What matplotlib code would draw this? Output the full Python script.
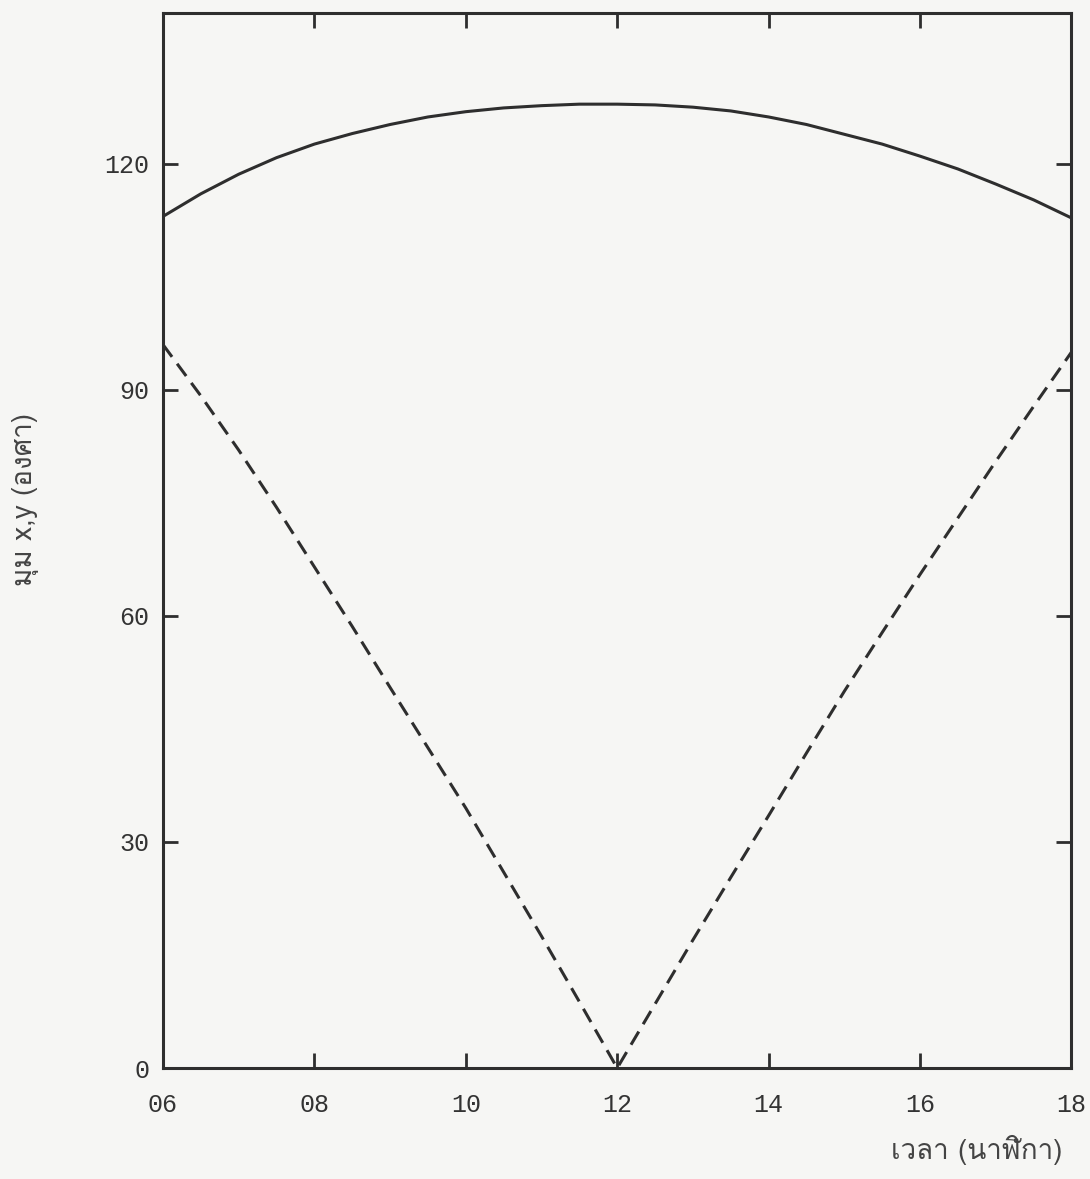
import matplotlib
matplotlib.use('Agg')
import matplotlib.pyplot as plt
from matplotlib import font_manager
from matplotlib.ft2font import FT2Font

# Data (half-hour readings)
hours = [6, 6.5, 7, 7.5, 8, 8.5, 9, 9.5, 10, 10.5, 11, 11.5, 12,
         12.5, 13, 13.5, 14, 14.5, 15, 15.5, 16, 16.5, 17, 17.5, 18]
angle_solid = [113.0, 116.0, 118.6, 120.8, 122.6, 124.0, 125.2, 126.2, 126.9, 127.4, 127.7, 127.9, 127.9,
               127.8, 127.5, 127.0, 126.2, 125.2, 123.9, 122.6, 121.0, 119.3, 117.3, 115.2, 112.8]
angle_dashed = [96.0, 89.2, 82.0, 74.4, 66.5, 58.6, 50.5, 42.5, 34.5, 26.0, 17.5, 8.8, 0.0,
                8.5, 17.0, 25.3, 33.5, 41.8, 50.0, 57.8, 65.5, 73.0, 80.5, 87.8, 95.0]

x_ticks = [6, 8, 10, 12, 14, 16, 18]
x_labels = ['06', '08', '10', '12', '14', '16', '18']
y_ticks = [0, 30, 60, 90, 120]
y_labels = ['0', '30', '60', '90', '120']

ylabel_text = 'มุม x,y (องศา)'
xlabel_text = 'เวลา (นาฬิกา)'


# Find any installed font that has Thai glyphs
def find_thai_font():
    seen = set()
    for f in font_manager.fontManager.ttflist:
        if f.fname in seen:
            continue
        seen.add(f.fname)
        try:
            cmap = FT2Font(f.fname).get_charmap()
        except Exception:
            continue
        if 0x0E21 in cmap and 0x0E32 in cmap:
            return f.name
    return None


thai = find_thai_font()
thai_family = [thai, 'DejaVu Sans'] if thai else ['DejaVu Sans']
num_family = ['Liberation Mono', 'DejaVu Sans Mono']

ink = '#2e2e2e'
paper = '#f6f6f4'

fig = plt.figure(figsize=(10.9, 11.79), dpi=100, facecolor=paper)
ax = fig.add_axes([0.1495, 0.0941, 0.8335, 0.8949])
ax.set_facecolor(paper)

ax.plot(hours, angle_solid, color=ink, lw=2.2, solid_capstyle='butt')
ax.plot(hours, angle_dashed, color=ink, lw=2.2, linestyle=(0, (5, 2.8)))

ax.set_xlim(6, 18)
ax.set_ylim(0, 140)

ax.set_xticks(x_ticks)
ax.set_xticklabels(x_labels, family=num_family, fontsize=18, color='#333333')
ax.set_yticks(y_ticks)
ax.set_yticklabels(y_labels, family=num_family, fontsize=18, color='#333333')

ax.tick_params(direction='in', top=True, right=True, length=11, width=2.0, color=ink)
ax.tick_params(axis='x', pad=18)
ax.tick_params(axis='y', pad=10)

for s in ax.spines.values():
    s.set_color(ink)
    s.set_linewidth(2.2)

fig.text(0.023, 0.576, ylabel_text, rotation=90, ha='center', va='center',
         family=thai_family, fontsize=20, color='#444444')
fig.text(0.975, 0.025, xlabel_text, ha='right', va='center',
         family=thai_family, fontsize=20, color='#444444')

fig.savefig('out.png', dpi=100, facecolor=paper)
